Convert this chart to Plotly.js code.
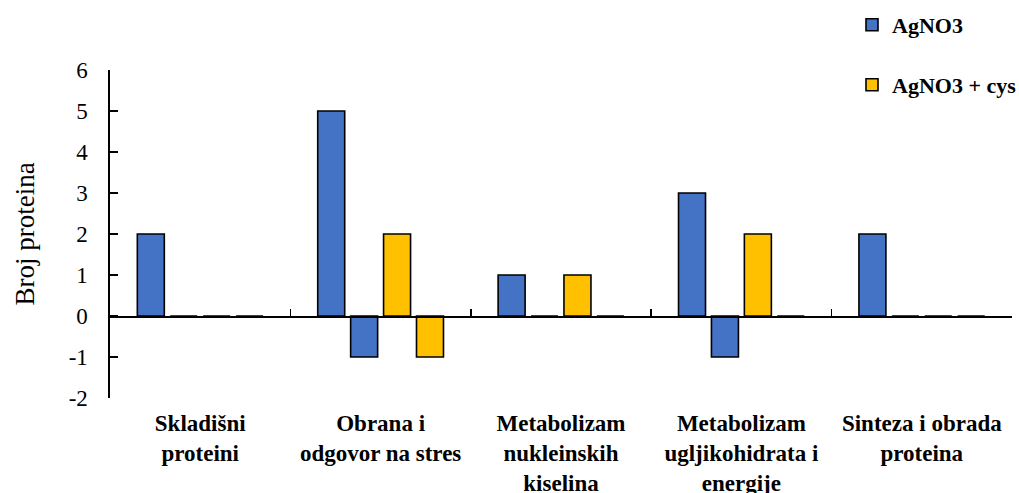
<!DOCTYPE html>
<html>
<head>
<meta charset="utf-8">
<script src="https://cdn.plot.ly/plotly-3.0.1.min.js"></script>
<style>html,body{margin:0;padding:0;background:#fff;}#chart{width:1019px;height:493px;}</style>
</head>
<body>
<div id="chart"></div>
<script>
const categories = [
  "Skladišni<br>proteini",
  "Obrana i<br>odgovor na stres",
  "Metabolizam<br>nukleinskih<br>kiselina",
  "Metabolizam<br>ugljikohidrata i<br>energije",
  "Sinteza i obrada<br>proteina"
];
const agno3Up   = [2, 5, 1, 3, 2];
const agno3Down = [0, -1, 0, -1, 0];
const cysUp     = [0, 2, 1, 2, 0];
const cysDown   = [0, -1, 0, 0, 0];
const yTickVals = [-2, -1, 0, 1, 2, 3, 4, 5, 6];
const yTickText = ["-2", "-1", "0", "1", "2", "3", "4", "5", "6"];

const FONT = "Liberation Serif, Times New Roman, serif";
const BLUE = "#4472C4";
const YELLOW = "#FFC000";
const barLine = {color: "#000", width: 1.6};

const traces = [
  {type: "bar", name: "AgNO3", x: categories, y: agno3Up, marker: {color: BLUE, line: barLine}, legend: "legend", hoverinfo: "y"},
  {type: "bar", name: "AgNO3", x: categories, y: agno3Down, marker: {color: BLUE, line: barLine}, showlegend: false, hoverinfo: "y"},
  {type: "bar", name: "AgNO3 + cys", x: categories, y: cysUp, marker: {color: YELLOW, line: barLine}, legend: "legend2", hoverinfo: "y"},
  {type: "bar", name: "AgNO3 + cys", x: categories, y: cysDown, marker: {color: YELLOW, line: barLine}, showlegend: false, hoverinfo: "y"},
  {type: "scatter", mode: "markers", x: categories, y: categories.map(() => 0), xaxis: "x2", yaxis: "y",
   marker: {opacity: 0}, showlegend: false, hoverinfo: "skip"}
];

const legendFont = {family: FONT, size: 22, color: "#000", weight: "bold"};

const layout = {
  width: 1019, height: 493,
  margin: {l: 110, r: 7, t: 70, b: 95, autoexpand: false},
  paper_bgcolor: "#fff", plot_bgcolor: "#fff",
  barmode: "group",
  bargap: 0.27,
  bargroupgap: 0.18,
  font: {family: FONT, color: "#000"},
  xaxis: {
    type: "category", range: [-0.5, 4.5],
    showline: false, showgrid: false, zeroline: false, ticks: "",
    tickangle: 0, automargin: false,
    tickfont: {family: FONT, size: 23, color: "#000", weight: "bold"},
    ticklabelstandoff: 9,
    fixedrange: true
  },
  xaxis2: {
    type: "category", range: [-0.5, 4.5],
    overlaying: "x", anchor: "free", position: 0.25,
    showline: true, linecolor: "#000", linewidth: 1.6,
    ticks: "inside", tickson: "boundaries", ticklen: 7, tickwidth: 1.6, tickcolor: "#000",
    showticklabels: false, showgrid: false, zeroline: false, fixedrange: true
  },
  yaxis: {
    range: [-2, 6], tickmode: "array", tickvals: yTickVals, ticktext: yTickText,
    showline: true, linecolor: "#000", linewidth: 1.6,
    ticks: "inside", ticklen: 8, tickwidth: 1.6, tickcolor: "#000",
    showgrid: false, zeroline: false, automargin: false,
    tickfont: {family: FONT, size: 23, color: "#000"},
    ticklabelstandoff: 16,
    title: {text: "Broj proteina", font: {family: FONT, size: 27, color: "#000"}, standoff: 26},
    fixedrange: true
  },
  legend: {
    xref: "container", yref: "container", x: 852 / 1019, y: 1 - 25 / 493,
    xanchor: "left", yanchor: "middle", bgcolor: "rgba(0,0,0,0)", borderwidth: 0,
    font: legendFont
  },
  legend2: {
    xref: "container", yref: "container", x: 852 / 1019, y: 1 - 85 / 493,
    xanchor: "left", yanchor: "middle", bgcolor: "rgba(0,0,0,0)", borderwidth: 0,
    font: legendFont
  },
  showlegend: true
};

Plotly.newPlot("chart", traces, layout, {displayModeBar: false, staticPlot: true});
</script>
</body>
</html>
